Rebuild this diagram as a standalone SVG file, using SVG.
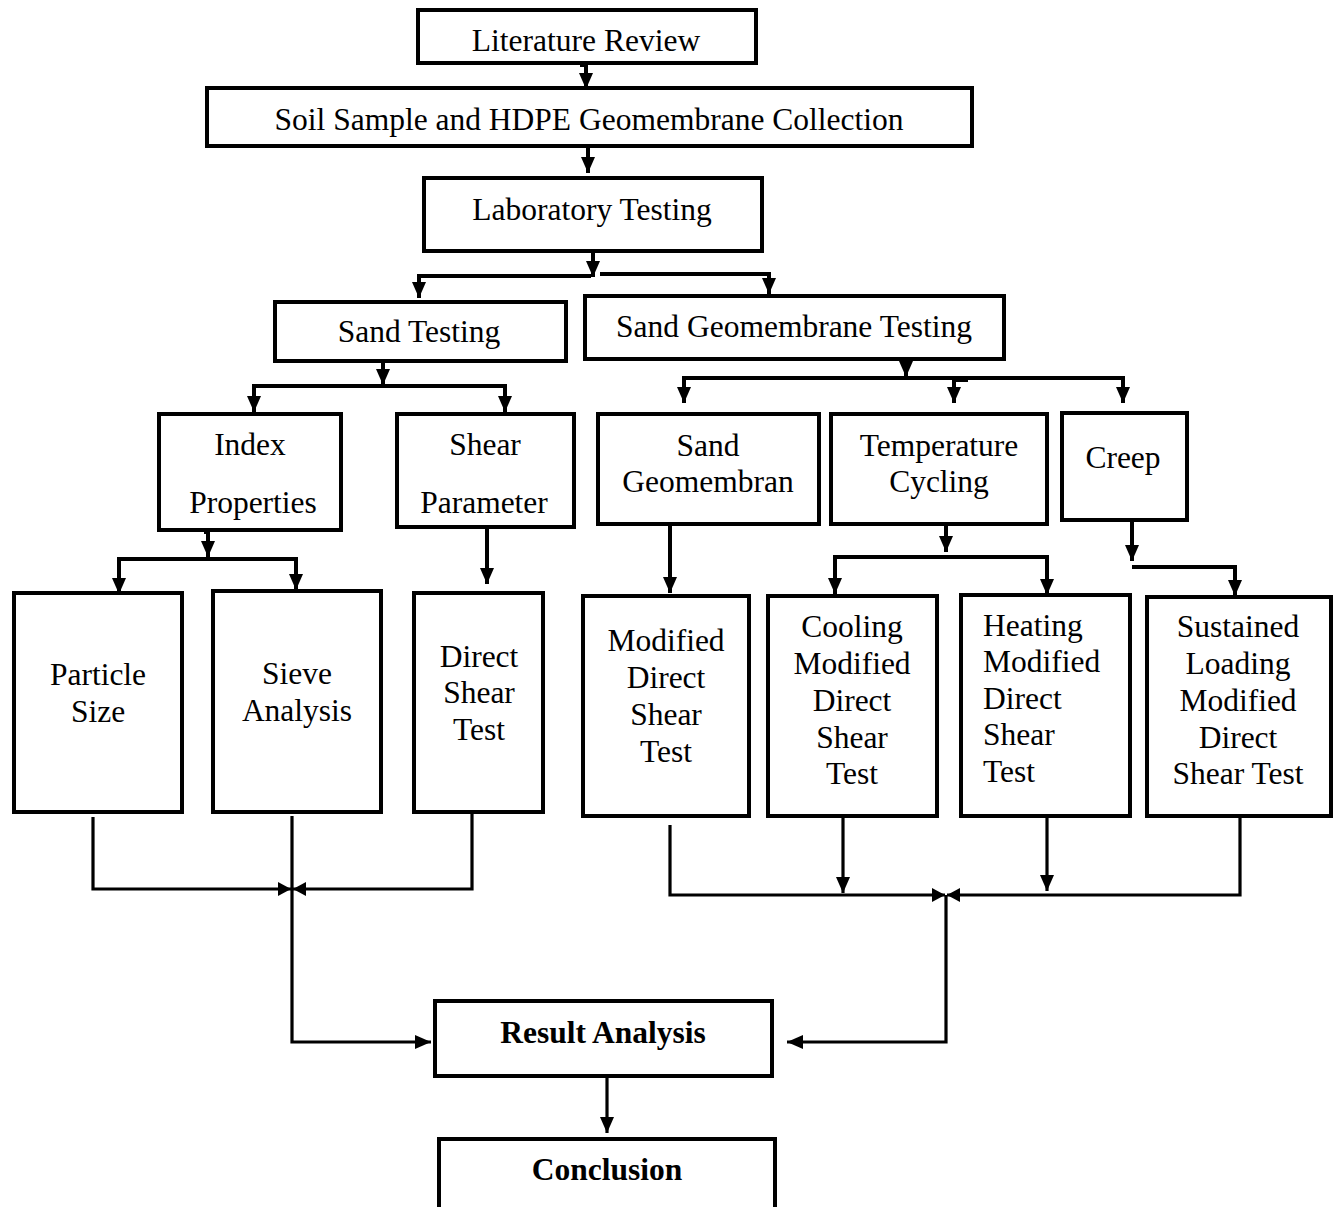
<svg xmlns="http://www.w3.org/2000/svg" width="1335" height="1207" viewBox="0 0 1335 1207">
<style>
.box{fill:#fff;stroke:#000;stroke-width:4}
.t{font-family:"Liberation Serif","Times New Roman",serif;font-size:31.5px;fill:#000;text-anchor:middle}
.l{text-anchor:start}
.b{font-weight:bold}
.c{fill:none;stroke:#000;stroke-width:4}
.c2{fill:none;stroke:#000;stroke-width:3.2}
</style>
<defs>
<marker id="ah" markerUnits="userSpaceOnUse" markerWidth="18" markerHeight="16" refX="16" refY="7" orient="auto">
<path d="M0,0 L16,7 L0,14 z" fill="#000"/>
</marker>
<marker id="as" markerUnits="userSpaceOnUse" markerWidth="16" markerHeight="16" refX="13" refY="7" orient="auto">
<path d="M0,0 L13,7 L0,14 z" fill="#000"/>
</marker>
</defs>
<rect width="1335" height="1207" fill="#fff"/>
<g id="connectors">
<path class="c" d="M580,65 H586 V89" marker-end="url(#ah)"/>
<path class="c" d="M588,146 V173" marker-end="url(#ah)"/>
<path class="c" d="M593,251 V277" marker-end="url(#ah)"/>
<path class="c" d="M591,276 H419 V298" marker-end="url(#ah)"/>
<path class="c" d="M600,274 H769 V294" marker-end="url(#ah)"/>
<path class="c" d="M383,361 V385" marker-end="url(#ah)"/>
<path class="c" d="M383,386 H254 V412" marker-end="url(#ah)"/>
<path class="c" d="M383,386 H505 V412" marker-end="url(#ah)"/>
<path class="c" d="M906,359 V377" marker-end="url(#ah)"/>
<path class="c" d="M906,378 H684 V403" marker-end="url(#ah)"/>
<path class="c" d="M906,378 H1123 V403" marker-end="url(#ah)"/>
<path class="c" d="M968,380 H954 V403" marker-end="url(#ah)"/>
<path class="c" d="M204,532 H208 V557" marker-end="url(#ah)"/>
<path class="c" d="M208,559 H119 V594" marker-end="url(#ah)"/>
<path class="c" d="M208,559 H296 V590" marker-end="url(#ah)"/>
<path class="c" d="M487,527 V584" marker-end="url(#ah)"/>
<path class="c" d="M670,524 V593" marker-end="url(#ah)"/>
<path class="c" d="M946,524 V552" marker-end="url(#ah)"/>
<path class="c" d="M946,557 H835 V594" marker-end="url(#ah)"/>
<path class="c" d="M946,557 H1047 V595" marker-end="url(#ah)"/>
<path class="c" d="M1146,520 H1132 V561" marker-end="url(#ah)"/>
<path class="c" d="M1132,567 H1235 V596" marker-end="url(#ah)"/>
<path class="c2" d="M93,817 V889 H291" marker-end="url(#as)"/>
<path class="c2" d="M472,812 V889 H293" marker-end="url(#as)"/>
<path class="c2" d="M292,816 V1042 H431" marker-end="url(#ah)"/>
<path class="c2" d="M670,825 V895 H945" marker-end="url(#as)"/>
<path class="c2" d="M1240,817 V895 H947" marker-end="url(#as)"/>
<path class="c2" d="M843,817 V893" marker-end="url(#ah)"/>
<path class="c2" d="M1047,815 V891" marker-end="url(#ah)"/>
<path class="c" d="M1045,814 H1072" stroke-width="4"/>
<path class="c2" d="M946,895 V1042 H787" marker-end="url(#ah)"/>
<path class="c2" d="M607,1076 V1133" marker-end="url(#ah)"/>
</g>
<g id="literature-review">
<rect class="box" x="418" y="10" width="338" height="53"/>
<text class="t" x="586" y="51">Literature Review</text>
</g>
<g id="soil-sample">
<rect class="box" x="207" y="88" width="765" height="58"/>
<text class="t" x="589" y="130">Soil Sample and HDPE Geomembrane Collection</text>
</g>
<g id="laboratory-testing">
<rect class="box" x="424" y="178" width="338" height="73"/>
<text class="t" x="592" y="220">Laboratory Testing</text>
</g>
<g id="sand-testing">
<rect class="box" x="275" y="302" width="291" height="59"/>
<text class="t" x="419" y="342">Sand Testing</text>
</g>
<g id="sand-geomembrane-testing">
<rect class="box" x="585" y="296" width="419" height="63"/>
<text class="t" x="794" y="337">Sand Geomembrane Testing</text>
</g>
<g id="index-properties">
<rect class="box" x="159" y="414" width="182" height="116"/>
<text class="t" x="250" y="455">Index</text>
<text class="t" x="253" y="513">Properties</text>
</g>
<g id="shear-parameter">
<rect class="box" x="397" y="414" width="177" height="113"/>
<text class="t" x="485" y="455">Shear</text>
<text class="t" x="484" y="513">Parameter</text>
</g>
<g id="sand-geomembran">
<rect class="box" x="598" y="414" width="221" height="110"/>
<text class="t" x="708" y="456">Sand</text>
<text class="t" x="708" y="492">Geomembran</text>
</g>
<g id="temperature-cycling">
<rect class="box" x="831" y="414" width="216" height="110"/>
<text class="t" x="939" y="456">Temperature</text>
<text class="t" x="939" y="492">Cycling</text>
</g>
<g id="creep">
<rect class="box" x="1062" y="413" width="125" height="107"/>
<text class="t" x="1123" y="468">Creep</text>
</g>
<g id="particle-size">
<rect class="box" x="14" y="593" width="168" height="219"/>
<text class="t" x="98" y="685">Particle</text>
<text class="t" x="98" y="722">Size</text>
</g>
<g id="sieve-analysis">
<rect class="box" x="213" y="591" width="168" height="221"/>
<text class="t" x="297" y="684">Sieve</text>
<text class="t" x="297" y="721">Analysis</text>
</g>
<g id="direct-shear-test">
<rect class="box" x="414" y="593" width="129" height="219"/>
<text class="t" x="479" y="667">Direct</text>
<text class="t" x="479" y="703">Shear</text>
<text class="t" x="479" y="740">Test</text>
</g>
<g id="modified-direct-shear-test">
<rect class="box" x="583" y="596" width="166" height="220"/>
<text class="t" x="666" y="651">Modified</text>
<text class="t" x="666" y="688">Direct</text>
<text class="t" x="666" y="725">Shear</text>
<text class="t" x="666" y="762">Test</text>
</g>
<g id="cooling">
<rect class="box" x="768" y="596" width="169" height="220"/>
<text class="t" x="852" y="637">Cooling</text>
<text class="t" x="852" y="674">Modified</text>
<text class="t" x="852" y="711">Direct</text>
<text class="t" x="852" y="748">Shear</text>
<text class="t" x="852" y="784">Test</text>
</g>
<g id="heating">
<rect class="box" x="961" y="595" width="169" height="221"/>
<text class="t l" x="983" y="636">Heating</text>
<text class="t l" x="983" y="672">Modified</text>
<text class="t l" x="983" y="709">Direct</text>
<text class="t l" x="983" y="745">Shear</text>
<text class="t l" x="983" y="782">Test</text>
</g>
<g id="sustained-loading">
<rect class="box" x="1147" y="597" width="184" height="219"/>
<text class="t" x="1238" y="637">Sustained</text>
<text class="t" x="1238" y="674">Loading</text>
<text class="t" x="1238" y="711">Modified</text>
<text class="t" x="1238" y="748">Direct</text>
<text class="t" x="1238" y="784">Shear Test</text>
</g>
<g id="result-analysis">
<rect class="box" x="435" y="1001" width="337" height="75"/>
<text class="t b" x="603" y="1043">Result Analysis</text>
</g>
<g id="conclusion">
<rect class="box" x="439" y="1139" width="336" height="90"/>
<text class="t b" x="607" y="1180">Conclusion</text>
</g>
</svg>
